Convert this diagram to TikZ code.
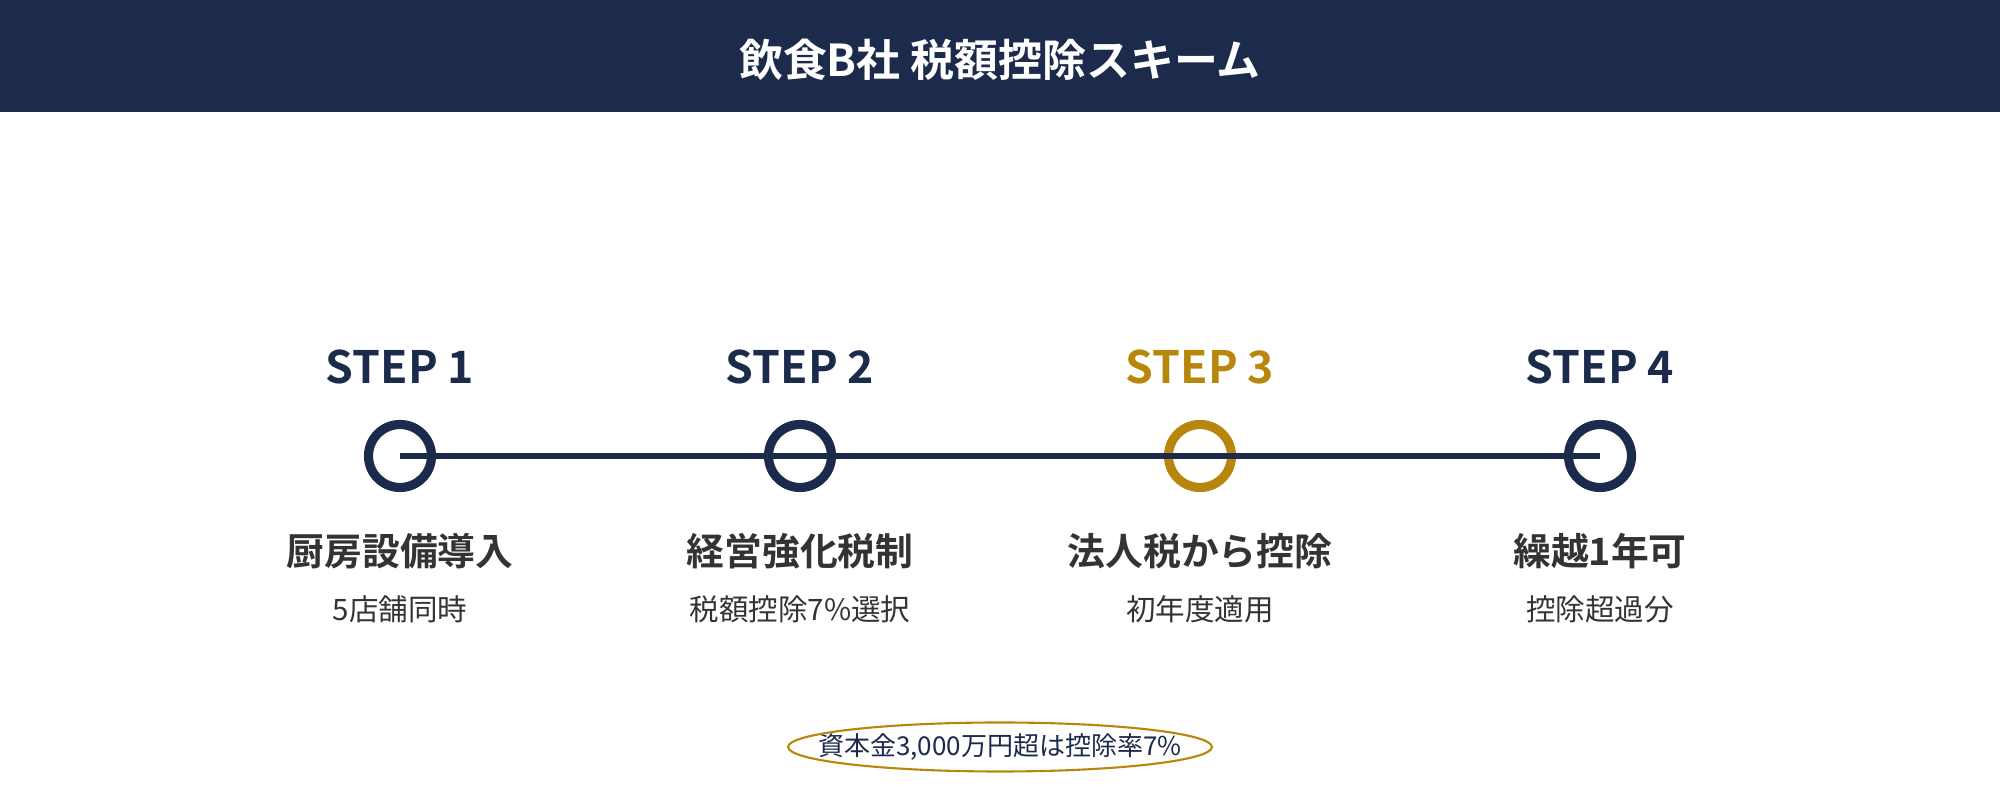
\documentclass[tikz,border=0pt]{standalone}
\usepackage{fontspec}
\setmainfont{Noto Sans CJK JP}[BoldFont={Noto Sans CJK JP Bold}]
\definecolor{navy}{HTML}{1C2A4B}
\definecolor{gold}{HTML}{B8860B}
\definecolor{ink}{HTML}{333333}
\tikzset{
  stepname/.style = {font=\bfseries\fontsize{12.7}{15}\selectfont, text=navy},
  dot/.style = {circle, draw=navy, line width=2.6pt, minimum size=0.63cm, inner sep=0pt},
  head/.style = {font=\bfseries\fontsize{10.75}{13}\selectfont, text=ink},
  sub/.style = {font=\fontsize{8.4}{10}\selectfont, text=ink}
}
\begin{document}
\begin{tikzpicture}
	\useasboundingbox (0,0) rectangle (20,8);
	\fill [navy] (0,6.88) rectangle (20,8);
	\node (title)[font=\bfseries\fontsize{12.5}{15}\selectfont, text=white] at (10,7.40) {飲食B社 税額控除スキーム};

	\node (step1)[stepname] at (4,4.33) {STEP 1};
	\node (step2)[stepname] at (8,4.33) {STEP 2};
	\node (step3)[stepname, text=gold] at (12,4.33) {STEP 3};
	\node (step4)[stepname] at (16,4.33) {STEP 4};

	\node (dot1)[dot] at (4,3.44) {};
	\node (dot2)[dot] at (8,3.44) {};
	\node (dot3)[dot, draw=gold] at (12,3.44) {};
	\node (dot4)[dot] at (16,3.44) {};

	\draw [navy, line width=1.7pt] (dot1.center) -- (dot4.center);

	\node (head1)[head] at (4,2.49) {厨房設備導入};
	\node (sub1)[sub] at (4,1.91) {5店舗同時};
	\node (head2)[head] at (8,2.49) {経営強化税制};
	\node (sub2)[sub] at (8,1.91) {税額控除7\%選択};
	\node (head3)[head] at (12,2.49) {法人税から控除};
	\node (sub3)[sub] at (12,1.91) {初年度適用};
	\node (head4)[head] at (16,2.49) {繰越1年可};
	\node (sub4)[sub] at (16,1.91) {控除超過分};

	\node (note)[font=\fontsize{7.4}{9}\selectfont, text=navy] at (10,0.53) {資本金3,000万円超は控除率7\%};
	\draw [gold, line width=0.6pt] (note.center) ellipse [x radius=2.12cm, y radius=0.245cm];
\end{tikzpicture}
\end{document}
